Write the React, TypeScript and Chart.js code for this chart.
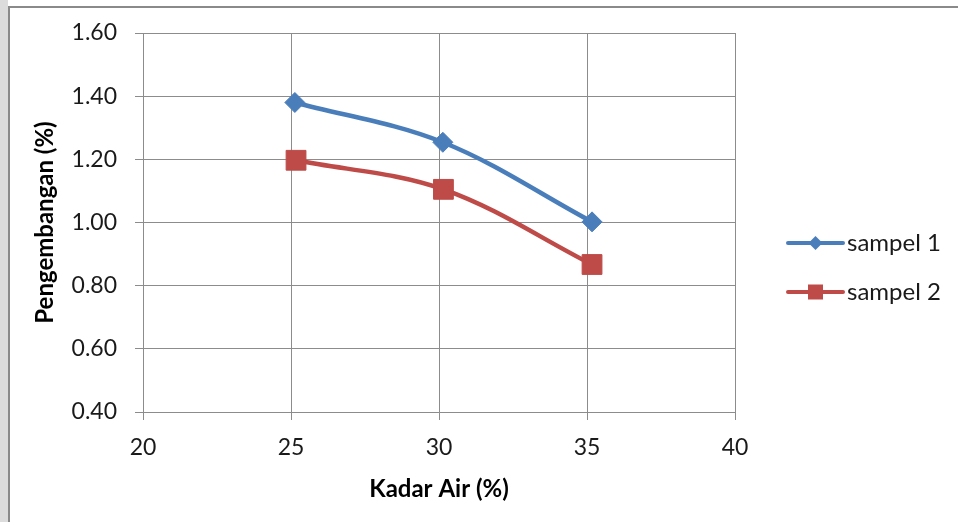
import React, { useEffect, useRef } from "react";
import { Chart, registerables } from "chart.js";

Chart.register(...registerables);

// Moisture content (x) and swelling (y) per sample
const sampel1X = [25.13, 30.13, 35.17];
const sampel1Y = [1.38, 1.254, 1.002];
const sampel2X = [25.17, 30.15, 35.17];
const sampel2Y = [1.197, 1.105, 0.867];

const seriesLabels = ["sampel 1", "sampel 2"];
const seriesColors = ["#4A7EBB", "#BE4B48"];
const xTitle = "Kadar Air (%)";
const yTitle = "Pengembangan (%)";

const FONT = "Lato, 'Open Sans', sans-serif";
const GRID = "#8c8c8c";

// Legend drawn at the right: a short line with the series marker in the middle
const sideLegend = {
  id: "sideLegend",
  afterDraw(chart: any) {
    const ctx = chart.ctx as CanvasRenderingContext2D;
    const x0 = 788;
    const x1 = 843;
    chart.data.datasets.forEach((ds: any, i: number) => {
      const y = 243 + i * 49;
      ctx.save();
      ctx.strokeStyle = ds.borderColor;
      ctx.lineWidth = 4;
      ctx.lineCap = "round";
      ctx.beginPath();
      ctx.moveTo(x0, y);
      ctx.lineTo(x1, y);
      ctx.stroke();
      ctx.fillStyle = ds.borderColor;
      const cx = (x0 + x1) / 2;
      ctx.beginPath();
      if (ds.pointStyle === "rectRot") {
        const r = 7;
        ctx.moveTo(cx, y - r);
        ctx.lineTo(cx + r, y);
        ctx.lineTo(cx, y + r);
        ctx.lineTo(cx - r, y);
        ctx.closePath();
      } else {
        const h = 7.5;
        ctx.rect(cx - h, y - h, 2 * h, 2 * h);
      }
      ctx.fill();
      ctx.fillStyle = "#1a1a1a";
      ctx.font = `24px ${FONT}`;
      ctx.textBaseline = "middle";
      ctx.textAlign = "left";
      ctx.fillText(ds.label, x1 + 4, y);
      ctx.restore();
    });
  },
};

export default function App() {
  const canvasRef = useRef<HTMLCanvasElement | null>(null);

  useEffect(() => {
    const canvas = canvasRef.current;
    if (!canvas) return;
    const chart = new Chart(canvas, {
      type: "line",
      data: {
        datasets: [
          {
            label: seriesLabels[0],
            data: sampel1X.map((x, i) => ({ x, y: sampel1Y[i] })),
            borderColor: seriesColors[0],
            backgroundColor: seriesColors[0],
            borderWidth: 4.5,
            tension: 0.35,
            pointStyle: "rectRot",
            pointRadius: 10,
            pointBorderWidth: 1,
            pointBackgroundColor: seriesColors[0],
            pointBorderColor: seriesColors[0],
          },
          {
            label: seriesLabels[1],
            data: sampel2X.map((x, i) => ({ x, y: sampel2Y[i] })),
            borderColor: seriesColors[1],
            backgroundColor: seriesColors[1],
            borderWidth: 4.5,
            tension: 0.35,
            pointStyle: "rect",
            pointRadius: 14,
            pointBorderWidth: 1,
            pointBackgroundColor: seriesColors[1],
            pointBorderColor: seriesColors[1],
          },
        ],
      },
      options: {
        animation: false,
        responsive: false,
        maintainAspectRatio: false,
        layout: { padding: { left: 0, top: 33, right: 223, bottom: 0 } },
        plugins: {
          legend: { display: false },
          tooltip: { enabled: false },
        },
        scales: {
          x: {
            type: "linear",
            min: 20,
            max: 40,
            afterFit(scale: any) {
              scale.height = 110;
            },
            ticks: {
              stepSize: 5,
              padding: 14,
              color: "#1a1a1a",
              font: { family: FONT, size: 23 },
            },
            grid: { color: GRID, lineWidth: 1, tickLength: 8 },
            border: { color: GRID, width: 1 },
            title: {
              display: true,
              text: xTitle,
              color: "#000",
              font: { family: FONT, size: 24, weight: "bold" },
              padding: { top: 0, bottom: 18 },
            },
          },
          y: {
            type: "linear",
            min: 0.4,
            max: 1.6,
            afterFit(scale: any) {
              scale.width = 143;
            },
            ticks: {
              stepSize: 0.2,
              padding: 18,
              color: "#1a1a1a",
              font: { family: FONT, size: 23 },
              callback: (v: any) => Number(v).toFixed(2),
            },
            grid: { color: GRID, lineWidth: 1, tickLength: 8 },
            border: { color: GRID, width: 1 },
            title: {
              display: true,
              text: yTitle,
              color: "#000",
              font: { family: FONT, size: 24, weight: "bold" },
              padding: { top: 31, bottom: 0 },
            },
          },
        },
      },
      plugins: [sideLegend],
    });
    return () => chart.destroy();
  }, []);

  return (
    <div style={{ position: "fixed", left: 0, top: 0, width: 958, height: 522, background: "#fff", overflow: "hidden" }}>
      <div style={{ position: "absolute", left: 0, top: 0, width: 8, height: 522, background: "#dcdcdc" }} />
      <div
        style={{
          position: "absolute",
          left: 8,
          top: 6,
          width: 950,
          height: 516,
          borderLeft: "2px solid #8a8a8a",
          borderTop: "2px solid #8a8a8a",
          background: "#fff",
        }}
      />
      <canvas
        ref={canvasRef}
        width={958}
        height={522}
        style={{ position: "absolute", left: 0, top: 0, width: 958, height: 522 }}
      />
    </div>
  );
}
